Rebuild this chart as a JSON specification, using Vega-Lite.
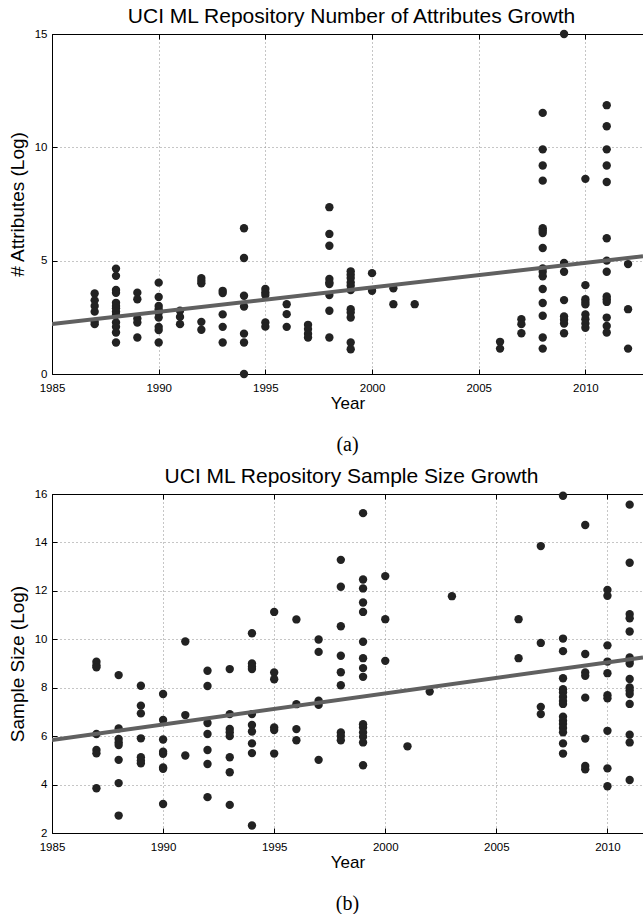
{
  "$schema": "https://vega.github.io/schema/vega-lite/v6.json",
  "padding": {"left": 8, "top": 5, "right": 0, "bottom": 0},
  "background": "white",
  "config": {
    "view": {"stroke": null},
    "font": "Liberation Sans",
    "axis": {
      "labelFont": "Liberation Sans",
      "titleFont": "Liberation Sans",
      "labelColor": "black",
      "titleColor": "black",
      "domainColor": "black",
      "tickColor": "black",
      "titleFontWeight": "normal",
      "labelFontSize": 11.5,
      "titleFontSize": 17
    }
  },
  "datasets": {
    "attrs": [
      {"year": 1987, "value": 3.55}, {"year": 1987, "value": 3.25}, {"year": 1987, "value": 3.0}, {"year": 1987, "value": 2.75}, {"year": 1987, "value": 2.3}, {"year": 1987, "value": 2.2},
      {"year": 1988, "value": 4.65}, {"year": 1988, "value": 4.33}, {"year": 1988, "value": 3.71}, {"year": 1988, "value": 3.58}, {"year": 1988, "value": 3.14}, {"year": 1988, "value": 3.0}, {"year": 1988, "value": 2.9}, {"year": 1988, "value": 2.75}, {"year": 1988, "value": 2.6}, {"year": 1988, "value": 2.27}, {"year": 1988, "value": 2.08}, {"year": 1988, "value": 1.83}, {"year": 1988, "value": 1.39},
      {"year": 1989, "value": 3.59}, {"year": 1989, "value": 3.3}, {"year": 1989, "value": 2.45}, {"year": 1989, "value": 2.27}, {"year": 1989, "value": 1.61},
      {"year": 1990, "value": 4.03}, {"year": 1990, "value": 3.4}, {"year": 1990, "value": 3.0}, {"year": 1990, "value": 2.86}, {"year": 1990, "value": 2.7}, {"year": 1990, "value": 2.49}, {"year": 1990, "value": 2.08}, {"year": 1990, "value": 1.94}, {"year": 1990, "value": 1.39},
      {"year": 1991, "value": 2.79}, {"year": 1991, "value": 2.52}, {"year": 1991, "value": 2.2},
      {"year": 1992, "value": 4.23}, {"year": 1992, "value": 4.11}, {"year": 1992, "value": 4.0}, {"year": 1992, "value": 2.3}, {"year": 1992, "value": 1.95},
      {"year": 1993, "value": 3.67}, {"year": 1993, "value": 3.57}, {"year": 1993, "value": 2.63}, {"year": 1993, "value": 2.08}, {"year": 1993, "value": 1.39},
      {"year": 1994, "value": 6.43}, {"year": 1994, "value": 5.12}, {"year": 1994, "value": 3.45}, {"year": 1994, "value": 2.98}, {"year": 1994, "value": 1.78}, {"year": 1994, "value": 1.39}, {"year": 1994, "value": 0.0},
      {"year": 1995, "value": 3.75}, {"year": 1995, "value": 3.6}, {"year": 1995, "value": 3.48}, {"year": 1995, "value": 2.27}, {"year": 1995, "value": 2.09},
      {"year": 1996, "value": 3.08}, {"year": 1996, "value": 2.64}, {"year": 1996, "value": 2.08},
      {"year": 1997, "value": 2.17}, {"year": 1997, "value": 1.98}, {"year": 1997, "value": 1.78}, {"year": 1997, "value": 1.61},
      {"year": 1998, "value": 7.36}, {"year": 1998, "value": 6.18}, {"year": 1998, "value": 5.66}, {"year": 1998, "value": 4.19}, {"year": 1998, "value": 4.04}, {"year": 1998, "value": 3.97}, {"year": 1998, "value": 3.48}, {"year": 1998, "value": 2.79}, {"year": 1998, "value": 1.61},
      {"year": 1999, "value": 4.53}, {"year": 1999, "value": 4.38}, {"year": 1999, "value": 4.23}, {"year": 1999, "value": 4.04}, {"year": 1999, "value": 3.89}, {"year": 1999, "value": 3.7}, {"year": 1999, "value": 2.86}, {"year": 1999, "value": 2.71}, {"year": 1999, "value": 2.49}, {"year": 1999, "value": 1.39}, {"year": 1999, "value": 1.09},
      {"year": 2000, "value": 4.45}, {"year": 2000, "value": 3.67},
      {"year": 2001, "value": 3.78}, {"year": 2001, "value": 3.08},
      {"year": 2002, "value": 3.08},
      {"year": 2006, "value": 1.42}, {"year": 2006, "value": 1.12},
      {"year": 2007, "value": 2.42}, {"year": 2007, "value": 2.2}, {"year": 2007, "value": 1.8},
      {"year": 2008, "value": 11.52}, {"year": 2008, "value": 9.91}, {"year": 2008, "value": 9.2}, {"year": 2008, "value": 8.53}, {"year": 2008, "value": 6.43}, {"year": 2008, "value": 6.33}, {"year": 2008, "value": 6.22}, {"year": 2008, "value": 5.56}, {"year": 2008, "value": 4.66}, {"year": 2008, "value": 4.51}, {"year": 2008, "value": 4.31}, {"year": 2008, "value": 3.75}, {"year": 2008, "value": 3.13}, {"year": 2008, "value": 2.57}, {"year": 2008, "value": 1.61}, {"year": 2008, "value": 1.12},
      {"year": 2009, "value": 15.0}, {"year": 2009, "value": 4.9}, {"year": 2009, "value": 4.51}, {"year": 2009, "value": 3.26}, {"year": 2009, "value": 2.54}, {"year": 2009, "value": 2.39}, {"year": 2009, "value": 2.23}, {"year": 2009, "value": 1.8},
      {"year": 2010, "value": 8.61}, {"year": 2010, "value": 3.92}, {"year": 2010, "value": 3.3}, {"year": 2010, "value": 3.18}, {"year": 2010, "value": 3.07}, {"year": 2010, "value": 2.63}, {"year": 2010, "value": 2.42}, {"year": 2010, "value": 2.23}, {"year": 2010, "value": 2.04},
      {"year": 2011, "value": 11.86}, {"year": 2011, "value": 10.93}, {"year": 2011, "value": 9.91}, {"year": 2011, "value": 9.2}, {"year": 2011, "value": 8.47}, {"year": 2011, "value": 5.99}, {"year": 2011, "value": 5.0}, {"year": 2011, "value": 4.51}, {"year": 2011, "value": 3.42}, {"year": 2011, "value": 3.3}, {"year": 2011, "value": 3.18}, {"year": 2011, "value": 2.49}, {"year": 2011, "value": 2.12}, {"year": 2011, "value": 1.83},
      {"year": 2012, "value": 4.85}, {"year": 2012, "value": 2.86}, {"year": 2012, "value": 1.12}
    ],
    "attrFit": [{"year": 1985, "value": 2.2}, {"year": 2012.7, "value": 5.19}],
    "samples": [
      {"year": 1987, "value": 9.07}, {"year": 1987, "value": 8.93}, {"year": 1987, "value": 8.84}, {"year": 1987, "value": 6.09}, {"year": 1987, "value": 5.43}, {"year": 1987, "value": 5.29}, {"year": 1987, "value": 3.85},
      {"year": 1988, "value": 8.52}, {"year": 1988, "value": 6.32}, {"year": 1988, "value": 5.88}, {"year": 1988, "value": 5.74}, {"year": 1988, "value": 5.63}, {"year": 1988, "value": 5.02}, {"year": 1988, "value": 4.06}, {"year": 1988, "value": 2.72},
      {"year": 1989, "value": 8.08}, {"year": 1989, "value": 7.26}, {"year": 1989, "value": 6.94}, {"year": 1989, "value": 5.91}, {"year": 1989, "value": 5.13}, {"year": 1989, "value": 4.99}, {"year": 1989, "value": 4.88},
      {"year": 1990, "value": 7.74}, {"year": 1990, "value": 6.67}, {"year": 1990, "value": 5.86}, {"year": 1990, "value": 5.36}, {"year": 1990, "value": 5.27}, {"year": 1990, "value": 4.71}, {"year": 1990, "value": 4.65}, {"year": 1990, "value": 3.2},
      {"year": 1991, "value": 9.91}, {"year": 1991, "value": 6.87}, {"year": 1991, "value": 5.2},
      {"year": 1992, "value": 8.7}, {"year": 1992, "value": 8.07}, {"year": 1992, "value": 6.54}, {"year": 1992, "value": 6.09}, {"year": 1992, "value": 5.43}, {"year": 1992, "value": 4.85}, {"year": 1992, "value": 3.48},
      {"year": 1993, "value": 8.77}, {"year": 1993, "value": 6.91}, {"year": 1993, "value": 6.3}, {"year": 1993, "value": 6.16}, {"year": 1993, "value": 6.0}, {"year": 1993, "value": 5.13}, {"year": 1993, "value": 4.51}, {"year": 1993, "value": 3.16},
      {"year": 1994, "value": 10.25}, {"year": 1994, "value": 9.0}, {"year": 1994, "value": 8.87}, {"year": 1994, "value": 8.77}, {"year": 1994, "value": 6.91}, {"year": 1994, "value": 6.46}, {"year": 1994, "value": 6.19}, {"year": 1994, "value": 5.7}, {"year": 1994, "value": 5.3}, {"year": 1994, "value": 2.31},
      {"year": 1995, "value": 11.13}, {"year": 1995, "value": 8.63}, {"year": 1995, "value": 8.35}, {"year": 1995, "value": 6.36}, {"year": 1995, "value": 6.25}, {"year": 1995, "value": 5.28},
      {"year": 1996, "value": 10.82}, {"year": 1996, "value": 7.32}, {"year": 1996, "value": 6.29}, {"year": 1996, "value": 5.83},
      {"year": 1997, "value": 9.99}, {"year": 1997, "value": 9.48}, {"year": 1997, "value": 7.46}, {"year": 1997, "value": 7.29}, {"year": 1997, "value": 5.02},
      {"year": 1998, "value": 13.28}, {"year": 1998, "value": 12.17}, {"year": 1998, "value": 10.54}, {"year": 1998, "value": 9.32}, {"year": 1998, "value": 8.64}, {"year": 1998, "value": 8.1}, {"year": 1998, "value": 6.15}, {"year": 1998, "value": 6.01}, {"year": 1998, "value": 5.83},
      {"year": 1999, "value": 15.21}, {"year": 1999, "value": 12.47}, {"year": 1999, "value": 12.1}, {"year": 1999, "value": 11.52}, {"year": 1999, "value": 11.13}, {"year": 1999, "value": 9.9}, {"year": 1999, "value": 9.22}, {"year": 1999, "value": 8.81}, {"year": 1999, "value": 8.45}, {"year": 1999, "value": 6.49}, {"year": 1999, "value": 6.36}, {"year": 1999, "value": 6.15}, {"year": 1999, "value": 5.97}, {"year": 1999, "value": 5.74}, {"year": 1999, "value": 4.8},
      {"year": 2000, "value": 12.61}, {"year": 2000, "value": 10.83}, {"year": 2000, "value": 9.11},
      {"year": 2001, "value": 5.58},
      {"year": 2002, "value": 7.84},
      {"year": 2003, "value": 11.78},
      {"year": 2006, "value": 10.83}, {"year": 2006, "value": 9.22},
      {"year": 2007, "value": 13.85}, {"year": 2007, "value": 9.85}, {"year": 2007, "value": 7.21}, {"year": 2007, "value": 6.91},
      {"year": 2008, "value": 15.93}, {"year": 2008, "value": 10.03}, {"year": 2008, "value": 9.51}, {"year": 2008, "value": 8.39}, {"year": 2008, "value": 7.94}, {"year": 2008, "value": 7.8}, {"year": 2008, "value": 7.62}, {"year": 2008, "value": 7.45}, {"year": 2008, "value": 7.33}, {"year": 2008, "value": 6.8}, {"year": 2008, "value": 6.64}, {"year": 2008, "value": 6.5}, {"year": 2008, "value": 6.34}, {"year": 2008, "value": 6.16}, {"year": 2008, "value": 5.7}, {"year": 2008, "value": 5.28},
      {"year": 2009, "value": 14.72}, {"year": 2009, "value": 9.39}, {"year": 2009, "value": 8.63}, {"year": 2009, "value": 8.49}, {"year": 2009, "value": 7.59}, {"year": 2009, "value": 5.9}, {"year": 2009, "value": 4.77}, {"year": 2009, "value": 4.63},
      {"year": 2010, "value": 12.04}, {"year": 2010, "value": 11.8}, {"year": 2010, "value": 9.75}, {"year": 2010, "value": 9.08}, {"year": 2010, "value": 8.6}, {"year": 2010, "value": 7.69}, {"year": 2010, "value": 7.56}, {"year": 2010, "value": 6.22}, {"year": 2010, "value": 4.67}, {"year": 2010, "value": 3.93},
      {"year": 2011, "value": 15.56}, {"year": 2011, "value": 13.16}, {"year": 2011, "value": 11.04}, {"year": 2011, "value": 10.87}, {"year": 2011, "value": 10.32}, {"year": 2011, "value": 9.25}, {"year": 2011, "value": 9.11}, {"year": 2011, "value": 9.0}, {"year": 2011, "value": 8.36}, {"year": 2011, "value": 8.01}, {"year": 2011, "value": 7.88}, {"year": 2011, "value": 7.74}, {"year": 2011, "value": 7.33}, {"year": 2011, "value": 6.06}, {"year": 2011, "value": 5.74}, {"year": 2011, "value": 4.19}
    ],
    "sampleFit": [{"year": 1985, "value": 5.84}, {"year": 2011.6, "value": 9.25}]
  },
  "spacing": 120,
  "bounds": "flush",
  "vconcat": [
    {
      "width": 591,
      "height": 340,
      "title": {"text": "(a)", "orient": "bottom", "font": "Liberation Serif", "fontSize": 20, "fontWeight": "normal", "color": "black", "offset": 23},
      "layer": [
        {
          "data": {"name": "attrs"},
          "mark": {"type": "circle", "size": 70, "color": "#222222", "opacity": 1},
          "encoding": {
            "x": {"field": "year", "type": "quantitative",
              "scale": {"domain": [1985, 2012.7], "nice": false, "zero": false},
              "axis": {"orient": "bottom", "title": "Year", "values": [1985, 1990, 1995, 2000, 2005, 2010], "format": "d",
                "grid": true, "gridDash": [1, 3], "gridColor": "#8c8c8c", "gridWidth": 1,
                "tickSize": -5, "labelPadding": 13, "titlePadding": 2, "labelFlush": false}},
            "y": {"field": "value", "type": "quantitative",
              "scale": {"domain": [0, 15], "nice": false, "zero": false},
              "axis": {"title": "# Attributes (Log)", "titleFontSize": 19, "values": [0, 5, 10, 15],
                "grid": true, "gridDash": [1, 3], "gridColor": "#8c8c8c", "gridWidth": 1,
                "tickSize": -5, "labelPadding": 10, "titlePadding": 7}}
          }
        },
        {
          "data": {"name": "attrFit"},
          "mark": {"type": "line", "color": "#606060", "strokeWidth": 4, "clip": true},
          "encoding": {
            "x": {"field": "year", "type": "quantitative",
              "axis": {"orient": "top", "labels": false, "title": "UCI ML Repository Number of Attributes Growth", "titleFontSize": 21, "titlePadding": 7, "titleX": 299,
                "values": [1985, 1990, 1995, 2000, 2005, 2010], "grid": false, "tickSize": -5}},
            "y": {"field": "value", "type": "quantitative"}
          }
        }
      ],
      "resolve": {"axis": {"x": "independent"}}
    },
    {
      "width": 591,
      "height": 339,
      "title": {"text": "(b)", "orient": "bottom", "font": "Liberation Serif", "fontSize": 20, "fontWeight": "normal", "color": "black", "offset": 23},
      "layer": [
        {
          "data": {"name": "samples"},
          "mark": {"type": "circle", "size": 70, "color": "#222222", "opacity": 1},
          "encoding": {
            "x": {"field": "year", "type": "quantitative",
              "scale": {"domain": [1985, 2011.6], "nice": false, "zero": false},
              "axis": {"orient": "bottom", "title": "Year", "values": [1985, 1990, 1995, 2000, 2005, 2010], "format": "d",
                "grid": true, "gridDash": [1, 3], "gridColor": "#8c8c8c", "gridWidth": 1,
                "tickSize": -5, "labelPadding": 13, "titlePadding": 2, "labelFlush": false}},
            "y": {"field": "value", "type": "quantitative",
              "scale": {"domain": [2, 16], "nice": false, "zero": false},
              "axis": {"title": "Sample Size (Log)", "titleFontSize": 19, "values": [2, 4, 6, 8, 10, 12, 14, 16],
                "grid": true, "gridDash": [1, 3], "gridColor": "#8c8c8c", "gridWidth": 1,
                "tickSize": -5, "labelPadding": 10, "titlePadding": 7}}
          }
        },
        {
          "data": {"name": "sampleFit"},
          "mark": {"type": "line", "color": "#606060", "strokeWidth": 4, "clip": true},
          "encoding": {
            "x": {"field": "year", "type": "quantitative",
              "axis": {"orient": "top", "labels": false, "title": "UCI ML Repository Sample Size Growth", "titleFontSize": 21, "titlePadding": 7, "titleX": 299,
                "values": [1985, 1990, 1995, 2000, 2005, 2010], "grid": false, "tickSize": -5}},
            "y": {"field": "value", "type": "quantitative"}
          }
        }
      ],
      "resolve": {"axis": {"x": "independent"}}
    }
  ]
}
